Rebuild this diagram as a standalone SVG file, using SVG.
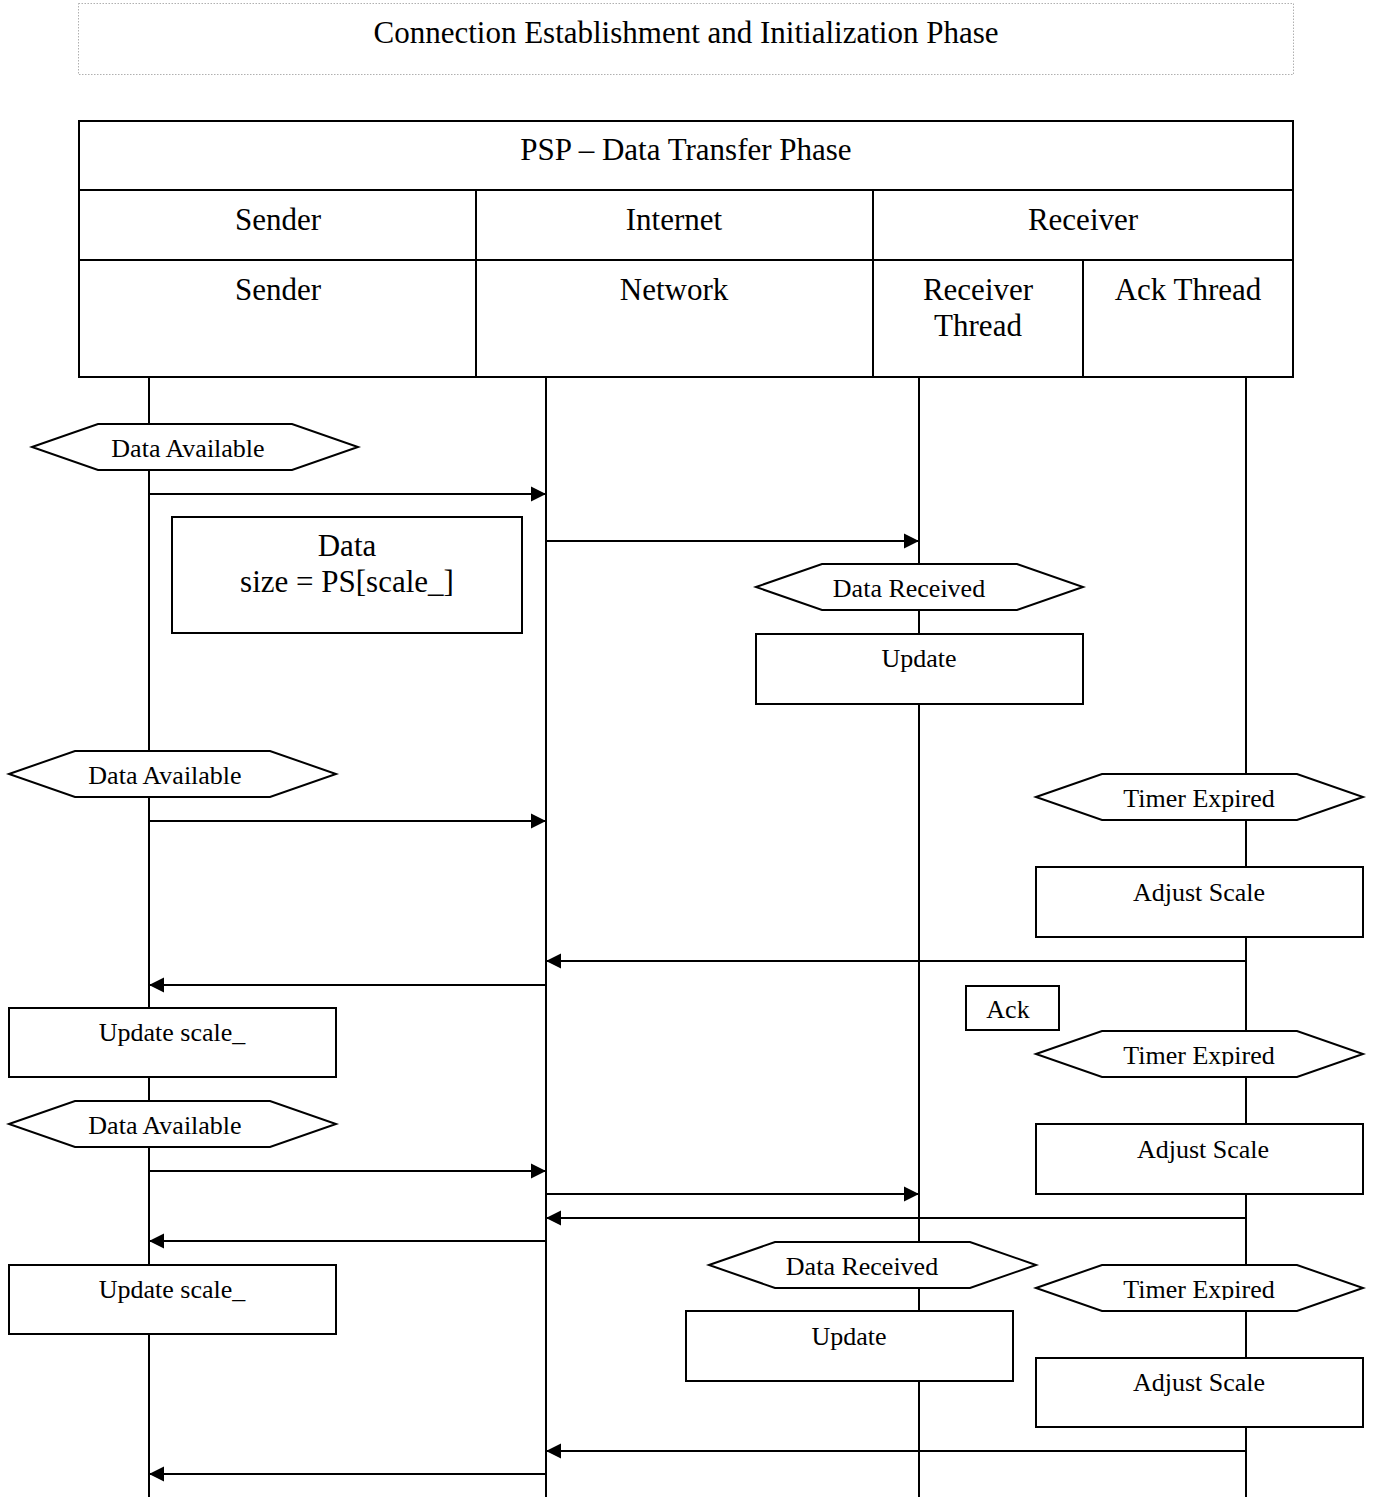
<svg xmlns="http://www.w3.org/2000/svg" width="1375" height="1497" viewBox="0 0 1375 1497">
  <style>
    text { font-family: "Liberation Serif", "Times New Roman", serif; fill: #000; text-anchor: middle; }
    .hdr { font-size: 31px; }
    .lbl { font-size: 26px; }
    .cell { fill: none; stroke: #000; stroke-width: 2; }
    .life { stroke: #000; stroke-width: 2; fill: none; }
    .shape { fill: #fff; stroke: #000; stroke-width: 2; }
    .msg { stroke: #000; stroke-width: 2; fill: none; marker-end: url(#head); }
  </style>
  <defs>
    <marker id="head" markerUnits="userSpaceOnUse" markerWidth="16" markerHeight="16" viewBox="0 0 16 16" refX="15" refY="8" orient="auto">
      <path d="M0,0.5 L15,8 L0,15.5 Z" fill="#000"/>
    </marker>
    <clipPath id="clipTimer2"><rect x="1036" y="1031" width="328" height="35"/></clipPath>
    <clipPath id="clipTimer3"><rect x="1036" y="1265" width="328" height="35"/></clipPath>
  </defs>
  <rect width="1375" height="1497" fill="#fff"/>

  <!-- phase banner -->
  <g id="phase-banner">
    <rect x="78.5" y="3.5" width="1215" height="71" fill="none" stroke="#b0b0b0" stroke-width="1" stroke-dasharray="1.5 1.5"/>
    <text class="hdr" x="686" y="43">Connection Establishment and Initialization Phase</text>
  </g>

  <!-- header table -->
  <g id="header-table">
    <rect class="cell" x="79" y="121" width="1214" height="256"/>
    <line class="cell" x1="79" y1="190" x2="1293" y2="190"/>
    <line class="cell" x1="79" y1="260" x2="1293" y2="260"/>
    <line class="cell" x1="476" y1="190" x2="476" y2="377"/>
    <line class="cell" x1="873" y1="190" x2="873" y2="377"/>
    <line class="cell" x1="1083" y1="260" x2="1083" y2="377"/>
    <text class="hdr" x="686" y="160">PSP – Data Transfer Phase</text>
    <text class="hdr" x="278" y="230">Sender</text>
    <text class="hdr" x="674" y="230">Internet</text>
    <text class="hdr" x="1083" y="230">Receiver</text>
    <text class="hdr" x="278" y="300">Sender</text>
    <text class="hdr" x="674" y="300">Network</text>
    <text class="hdr" x="978" y="300">Receiver</text>
    <text class="hdr" x="978" y="336">Thread</text>
    <text class="hdr" x="1188" y="300">Ack Thread</text>
  </g>

  <!-- lifelines -->
  <g id="lifelines">
    <line class="life" x1="149" y1="377" x2="149" y2="1497"/>
    <line class="life" x1="546" y1="377" x2="546" y2="1497"/>
    <line class="life" x1="919" y1="377" x2="919" y2="1497"/>
    <line class="life" x1="1246" y1="377" x2="1246" y2="1497"/>
  </g>

  <!-- messages -->
  <g id="connectors">
    <line class="msg" x1="149" y1="494" x2="546" y2="494"/>
    <line class="msg" x1="546" y1="541" x2="919" y2="541"/>
    <line class="msg" x1="149" y1="821" x2="546" y2="821"/>
    <line class="msg" x1="1246" y1="961" x2="546" y2="961"/>
    <line class="msg" x1="546" y1="985" x2="149" y2="985"/>
    <line class="msg" x1="149" y1="1171" x2="546" y2="1171"/>
    <line class="msg" x1="546" y1="1194" x2="919" y2="1194"/>
    <line class="msg" x1="1246" y1="1218" x2="546" y2="1218"/>
    <line class="msg" x1="546" y1="1241" x2="149" y2="1241"/>
    <line class="msg" x1="1246" y1="1451" x2="546" y2="1451"/>
    <line class="msg" x1="546" y1="1474" x2="149" y2="1474"/>
  </g>

  <!-- sender side -->
  <g id="data-available-1">
    <polygon class="shape" points="32,447 98,424 292,424 358,447 292,470 98,470"/>
    <text class="lbl" x="188" y="457">Data Available</text>
  </g>
  <g id="data-packet">
    <rect class="shape" x="172" y="517" width="350" height="116"/>
    <text class="hdr" x="347" y="556">Data</text>
    <text class="hdr" x="347" y="592">size = PS[scale_]</text>
  </g>
  <g id="data-available-2">
    <polygon class="shape" points="9,774 75,751 270,751 336,774 270,797 75,797"/>
    <text class="lbl" x="165" y="784">Data Available</text>
  </g>
  <g id="update-scale-1">
    <rect class="shape" x="9" y="1008" width="327" height="69"/>
    <text class="lbl" x="172" y="1041">Update scale_</text>
  </g>
  <g id="data-available-3">
    <polygon class="shape" points="9,1124 75,1101 270,1101 336,1124 270,1147 75,1147"/>
    <text class="lbl" x="165" y="1134">Data Available</text>
  </g>
  <g id="update-scale-2">
    <rect class="shape" x="9" y="1265" width="327" height="69"/>
    <text class="lbl" x="172" y="1298">Update scale_</text>
  </g>

  <!-- receiver thread -->
  <g id="data-received-1">
    <polygon class="shape" points="756,587 822,564 1017,564 1083,587 1017,610 822,610"/>
    <text class="lbl" x="909" y="597">Data Received</text>
  </g>
  <g id="update-1">
    <rect class="shape" x="756" y="634" width="327" height="70"/>
    <text class="lbl" x="919" y="667">Update</text>
  </g>
  <g id="data-received-2">
    <polygon class="shape" points="709,1265 775,1242 970,1242 1036,1265 970,1288 775,1288"/>
    <text class="lbl" x="862" y="1275">Data Received</text>
  </g>
  <g id="update-2">
    <rect class="shape" x="686" y="1311" width="327" height="70"/>
    <text class="lbl" x="849" y="1345">Update</text>
  </g>

  <!-- ack thread -->
  <g id="timer-expired-1">
    <polygon class="shape" points="1036,797 1102,774 1297,774 1363,797 1297,820 1102,820"/>
    <text class="lbl" x="1199" y="807">Timer Expired</text>
  </g>
  <g id="adjust-scale-1">
    <rect class="shape" x="1036" y="867" width="327" height="70"/>
    <text class="lbl" x="1199" y="901">Adjust Scale</text>
  </g>
  <g id="ack">
    <rect class="shape" x="966" y="986" width="93" height="44"/>
    <text class="lbl" x="1008" y="1018">Ack</text>
  </g>
  <g id="timer-expired-2">
    <polygon class="shape" points="1036,1054 1102,1031 1297,1031 1363,1054 1297,1077 1102,1077"/>
    <text class="lbl" x="1199" y="1064" clip-path="url(#clipTimer2)">Timer Expired</text>
  </g>
  <g id="adjust-scale-2">
    <rect class="shape" x="1036" y="1124" width="327" height="70"/>
    <text class="lbl" x="1203" y="1158">Adjust Scale</text>
  </g>
  <g id="timer-expired-3">
    <polygon class="shape" points="1036,1288 1102,1265 1297,1265 1363,1288 1297,1311 1102,1311"/>
    <text class="lbl" x="1199" y="1298" clip-path="url(#clipTimer3)">Timer Expired</text>
  </g>
  <g id="adjust-scale-3">
    <rect class="shape" x="1036" y="1358" width="327" height="69"/>
    <text class="lbl" x="1199" y="1391">Adjust Scale</text>
  </g>
</svg>
